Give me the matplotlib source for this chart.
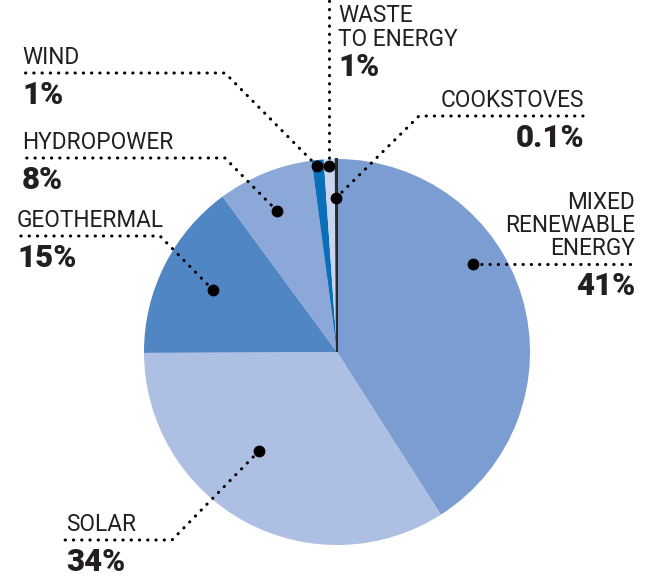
import matplotlib
matplotlib.use('Agg')
import matplotlib.pyplot as plt

# ---------------- data ----------------
sources = ['MIXED\nRENEWABLE\nENERGY', 'SOLAR', 'GEOTHERMAL', 'HYDROPOWER',
           'WIND', 'WASTE\nTO ENERGY', 'COOKSTOVES']
shares = [41, 34, 15, 8, 1, 1, 0.1]
share_labels = ['41%', '34%', '15%', '8%', '1%', '1%', '0.1%']
colors = ['#7b9dd2', '#adbfe3', '#5186c5', '#8ba8d8', '#0a6fb8', '#c9d5ee', '#2b2b2b']

W, H = 646, 582


def py(y):
    # pixel row (from top) -> data y
    return H - y


# leader layout: dot, elbow (or None), end of line, text x, alignment
leaders = [
    ((473, 264), None, (635, 264), 635, 'right'),
    ((259, 451), (172, 540), (65, 540), 66, 'left'),
    ((213, 290), (160, 236), (17, 236), 17, 'left'),
    ((277, 211), (225, 158), (22, 158), 22, 'left'),
    ((317, 166), (225, 73), (22, 73), 22, 'left'),
    ((329, 166), None, (329, 0), 338, 'left'),
    ((336, 198), (419, 116), (583, 116), 584, 'right'),
]

plt.rcParams['font.family'] = ['Roboto', 'DejaVu Sans']
txt_col = '#231f20'

fig = plt.figure(figsize=(W / 100, H / 100), dpi=100)
ax = fig.add_axes([0, 0, 1, 1])

wedges, _ = ax.pie(shares, colors=colors, startangle=90, counterclock=False,
                   radius=193, center=(337, py(352)),
                   wedgeprops=dict(linewidth=0))
wedges[-1].set_edgecolor('#2b2b2b')
wedges[-1].set_linewidth(1.5)

for i, (dot, elbow, end, tx, ha) in enumerate(leaders):
    pts = [dot] + ([elbow] if elbow else []) + [end]
    ax.plot([p[0] for p in pts], [py(p[1]) for p in pts], color='black',
            lw=2.2, linestyle=(0, (0.1, 2.6)), dash_capstyle='round', zorder=3)
    ax.plot(dot[0], py(dot[1]), 'o', color='black', ms=7.5, zorder=4)

    lines = sources[i].split('\n')
    if i == 5:
        # waste to energy sits beside its vertical leader
        base = [22, 46]
        pct_base = 76
    else:
        ly = end[1]
        base = [ly - 9 - 23 * (len(lines) - 1 - k) for k in range(len(lines))]
        pct_base = ly + 31
    for k, line in enumerate(lines):
        ax.text(tx, py(base[k]), line, ha=ha, va='baseline', fontsize=16.3,
                color=txt_col)
    ax.text(tx, py(pct_base), share_labels[i], ha=ha, va='baseline',
            fontsize=22.5, fontweight='black', color=txt_col)

ax.set_xlim(0, W)
ax.set_ylim(0, H)
ax.set_aspect('equal')
ax.axis('off')

fig.savefig('out.png', dpi=100)
